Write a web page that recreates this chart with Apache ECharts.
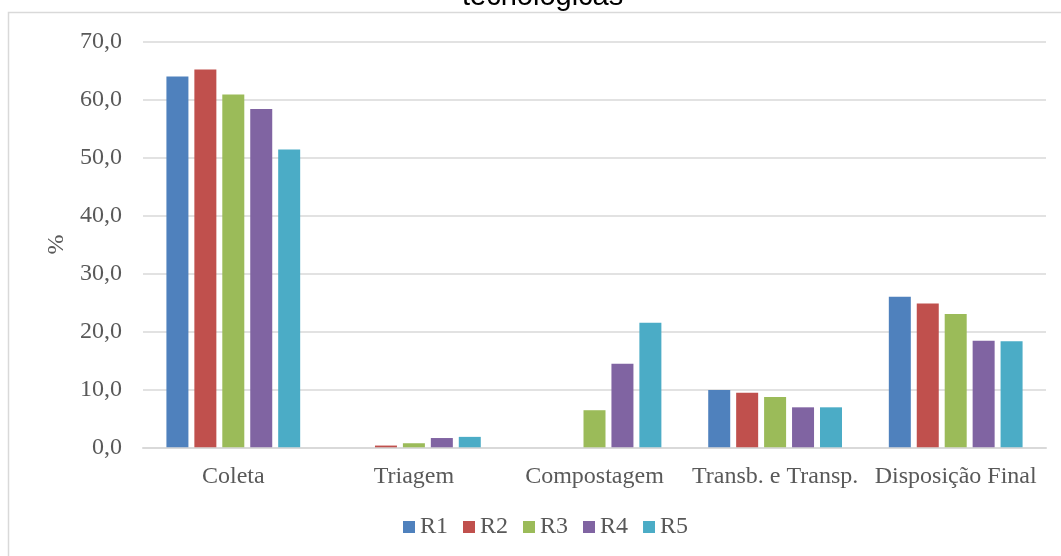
<!DOCTYPE html>
<html>
<head>
<meta charset="utf-8">
<script src="https://cdn.jsdelivr.net/npm/echarts@6/dist/echarts.min.js"></script>
<style>
  html, body { margin: 0; padding: 0; background: #fff; }
  #chart { width: 1061px; height: 556px; }
</style>
</head>
<body>
<div id="chart"></div>
<script>
// Etapas do manejo e participação (%) de cada rota tecnológica
const categories = ['Coleta', 'Triagem', 'Compostagem', 'Transb. e Transp.', 'Disposição Final'];
const seriesNames = ['R1', 'R2', 'R3', 'R4', 'R5'];
const R1 = [64.0, 0.0, 0.0, 9.9, 26.0];
const R2 = [65.2, 0.3, 0.0, 9.4, 24.8];
const R3 = [60.9, 0.7, 6.4, 8.7, 23.0];
const R4 = [58.4, 1.6, 14.4, 6.9, 18.4];
const R5 = [51.4, 1.8, 21.5, 6.9, 18.3];
const seriesValues = [R1, R2, R3, R4, R5];
const colors = ['#4F81BD', '#C0504D', '#9BBB59', '#8064A2', '#4BACC6'];
const titleText = 'tecnológicas';

const serif = '"Liberation Serif", "Times New Roman", serif';
const chart = echarts.init(document.getElementById('chart'));

chart.setOption({
  animation: false,
  color: colors,
  title: {
    text: titleText,
    left: 462,
    top: -18,
    padding: 0,
    textStyle: { fontFamily: '"Liberation Sans", Arial, sans-serif', fontSize: 29, fontWeight: 'normal', color: '#000', lineHeight: 29 }
  },
  graphic: [{
    type: 'rect',
    silent: true,
    z: -10,
    shape: { x: 8.5, y: 12.5, width: 1200, height: 700 },
    style: { fill: 'none', stroke: '#d9d9d9', lineWidth: 1.5 }
  }],
  legend: {
    data: seriesNames,
    top: 515,
    left: 403,
    padding: 0,
    itemWidth: 12,
    itemHeight: 12,
    itemGap: 15,
    icon: 'rect',
    textStyle: { fontFamily: serif, fontSize: 24, color: '#595959', lineHeight: 24 }
  },
  grid: { left: 143, right: 15, top: 41.7, bottom: 108.7, containLabel: false },
  xAxis: {
    type: 'category',
    data: categories,
    axisLine: { lineStyle: { color: '#d9d9d9', width: 2 } },
    axisTick: { show: false },
    axisLabel: { interval: 0, fontFamily: serif, fontSize: 24, color: '#595959', margin: 17 }
  },
  yAxis: {
    type: 'value',
    min: 0,
    max: 70,
    interval: 10,
    name: '%',
    nameLocation: 'middle',
    nameGap: 73,
    nameRotate: 90,
    nameTextStyle: { fontFamily: serif, fontSize: 24, color: '#595959' },
    axisLine: { show: false },
    axisTick: { show: false },
    axisLabel: {
      fontFamily: serif, fontSize: 24, color: '#595959', margin: 21,
      formatter: v => v.toFixed(1).replace('.', ',')
    },
    splitLine: { lineStyle: { color: '#d9d9d9', width: 1.5 } }
  },
  series: seriesNames.map((name, i) => ({
    name: name,
    type: 'bar',
    data: seriesValues[i],
    barWidth: 22,
    barGap: '27%'
  }))
});
</script>
</body>
</html>
